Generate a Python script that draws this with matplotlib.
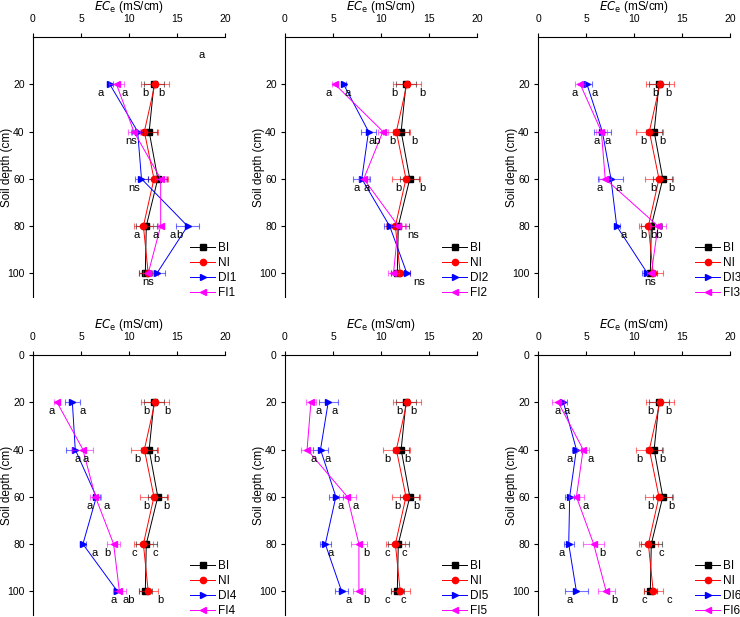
import matplotlib.pyplot as plt

depth = [20, 40, 60, 80, 100]

# shared treatments
BI = [12.6, 12.1, 13.0, 11.8, 11.7]
BI_err = [1.0, 0.8, 1.0, 1.1, 0.7]
NI = [12.7, 11.6, 12.6, 11.5, 12.0]
NI_err = [1.5, 1.4, 1.5, 1.0, 1.0]

# deficit / fertigation treatments, panel 1..6
DI1 = [8.0, 10.9, 11.3, 16.1, 12.9]
DI1_err = [0.3, 0.6, 0.7, 1.2, 0.8]
FI1 = [8.7, 10.5, 13.3, 13.3, 12.0]
FI1_err = [0.8, 0.6, 0.6, 0.3, 0.5]

DI2 = [6.1, 8.7, 8.0, 10.9, 12.7]
DI2_err = [0.3, 0.8, 0.9, 0.6, 0.3]
FI2 = [5.2, 10.2, 8.2, 11.8, 11.3]
FI2_err = [0.3, 0.5, 0.5, 0.8, 0.6]

DI3 = [5.1, 6.7, 7.6, 8.2, 11.4]
DI3_err = [0.5, 0.9, 1.3, 0.3, 0.6]
FI3 = [4.4, 6.6, 7.0, 12.5, 11.8]
FI3_err = [0.5, 0.6, 0.6, 0.8, 0.4]

DI4 = [4.1, 4.4, 6.6, 5.2, 8.8]
DI4_err = [0.8, 1.0, 0.4, 0.3, 0.4]
FI4 = [2.5, 5.2, 6.5, 8.4, 9.0]
FI4_err = [0.3, 1.1, 0.6, 0.7, 0.7]

DI5 = [4.5, 3.7, 5.3, 4.2, 5.9]
DI5_err = [1.0, 0.8, 0.7, 0.6, 0.7]
FI5 = [2.7, 2.3, 6.5, 7.7, 7.7]
FI5_err = [0.5, 0.6, 0.9, 0.8, 0.6]

DI6 = [2.65, 4.0, 3.3, 3.2, 4.0]
DI6_err = [0.4, 0.5, 0.5, 0.5, 1.2]
FI6 = [2.1, 4.7, 4.0, 5.8, 7.1]
FI6_err = [0.6, 0.6, 0.8, 1.1, 0.9]

# significance letters (x, depth, text)
letters1 = [(7.0, 20, 'a'), (9.5, 20, 'a'), (11.7, 20, 'b'), (13.4, 20, 'b'),
            (10.2, 40, 'ns'), (10.5, 60, 'ns'),
            (10.8, 80, 'a'), (12.8, 80, 'a'), (14.5, 80, 'a'), (15.3, 80, 'b'),
            (12.0, 100, 'ns')]
letters2 = [(4.5, 20, 'a'), (6.5, 20, 'a'), (11.4, 20, 'b'), (14.3, 20, 'b'),
            (9.3, 40, 'ab'), (11.2, 40, 'b'), (13.5, 40, 'b'),
            (7.5, 60, 'a'), (8.5, 60, 'a'), (11.8, 60, 'b'), (14.3, 60, 'b'),
            (13.4, 80, 'ns'), (14.0, 100, 'ns')]
letters3 = [(3.8, 20, 'a'), (5.9, 20, 'a'), (12.2, 20, 'b'), (13.6, 20, 'b'),
            (6.1, 40, 'a'), (7.3, 40, 'a'), (11.0, 40, 'b'), (13.0, 40, 'b'),
            (6.4, 60, 'a'), (8.4, 60, 'a'), (12.0, 60, 'b'), (13.9, 60, 'b'),
            (8.9, 80, 'a'), (11.0, 80, 'b'), (12.3, 80, 'bb'),
            (11.7, 100, 'ns')]
letters4 = [(1.9, 20, 'a'), (5.2, 20, 'a'), (11.8, 20, 'b'), (14.0, 20, 'b'),
            (4.6, 40, 'a'), (5.5, 40, 'a'), (10.9, 40, 'b'), (12.9, 40, 'b'),
            (5.9, 60, 'a'), (7.7, 60, 'a'), (11.8, 60, 'b'), (13.9, 60, 'b'),
            (6.4, 80, 'a'), (7.8, 80, 'b'), (10.6, 80, 'c'), (12.7, 80, 'c'),
            (8.4, 100, 'a'), (10.0, 100, 'ab'), (13.3, 100, 'b')]
letters5 = [(3.5, 20, 'a'), (5.2, 20, 'a'), (11.9, 20, 'b'), (13.4, 20, 'b'),
            (3.0, 40, 'a'), (4.4, 40, 'a'), (10.7, 40, 'b'), (12.8, 40, 'b'),
            (5.8, 60, 'a'), (7.4, 60, 'a'), (11.7, 60, 'b'), (13.7, 60, 'b'),
            (4.8, 80, 'a'), (8.5, 80, 'b'), (10.7, 80, 'c'), (12.4, 80, 'c'),
            (6.6, 100, 'a'), (8.5, 100, 'b'), (10.7, 100, 'c'), (12.3, 100, 'c')]
letters6 = [(2.0, 20, 'a'), (3.0, 20, 'a'), (11.7, 20, 'b'), (13.6, 20, 'b'),
            (3.3, 40, 'a'), (5.5, 40, 'a'), (10.6, 40, 'b'), (13.0, 40, 'b'),
            (2.5, 60, 'a'), (5.0, 60, 'a'), (11.7, 60, 'b'), (13.9, 60, 'b'),
            (2.5, 80, 'a'), (6.7, 80, 'b'), (10.4, 80, 'c'), (12.8, 80, 'c'),
            (3.3, 100, 'a'), (8.0, 100, 'b'), (11.1, 100, 'c'), (13.7, 100, 'c')]

panels = [
    ('DI1', DI1, DI1_err, 'FI1', FI1, FI1_err, letters1),
    ('DI2', DI2, DI2_err, 'FI2', FI2, FI2_err, letters2),
    ('DI3', DI3, DI3_err, 'FI3', FI3, FI3_err, letters3),
    ('DI4', DI4, DI4_err, 'FI4', FI4, FI4_err, letters4),
    ('DI5', DI5, DI5_err, 'FI5', FI5, FI5_err, letters5),
    ('DI6', DI6, DI6_err, 'FI6', FI6, FI6_err, letters6),
]

plt.rcParams['font.family'] = ['Liberation Sans', 'DejaVu Sans']

fig = plt.figure(figsize=(7.4, 6.17), dpi=100)
W, H = 740, 617
lefts = [33, 285, 538]
tops = [37, 355]
aw, ah = 192, 260

for i, (dn, dv, de, fn, fv, fe, letters) in enumerate(panels):
    row, col = divmod(i, 3)
    ax = fig.add_axes([lefts[col] / W, 1 - (tops[row] + ah) / H, aw / W, ah / H])

    def series(vals, err, color, marker, label):
        ax.errorbar(vals, depth, xerr=err, fmt='none', ecolor=color, alpha=0.55,
                    elinewidth=0.8, capsize=2.5, capthick=0.8)
        ax.plot(vals, depth, color=color, marker=marker, markersize=4.5,
                linewidth=0.7, label=label)

    series(BI, BI_err, 'black', 's', 'BI')
    series(NI, NI_err, 'red', 'o', 'NI')
    series(dv, de, 'blue', '>', dn)
    series(fv, fe, 'magenta', '<', fn)

    for x, d, t in letters:
        ax.text(x, d + 3.8, t, fontsize=8, ha='center', va='center')
    if i == 0:
        ax.text(17.6, 7.5, 'a', fontsize=8, ha='center', va='center')

    ax.set_xlim(0, 20)
    ax.set_ylim(110, 0)
    ax.xaxis.tick_top()
    ax.xaxis.set_label_position('top')
    ax.set_xticks([0, 5, 10, 15, 20])
    if row == 0:
        ax.set_yticks([20, 40, 60, 80, 100])
    else:
        ax.set_yticks([0, 20, 40, 60, 80, 100])
    ax.tick_params(axis='x', direction='out', length=3, width=0.8, pad=6, labelsize=7.5)
    ax.tick_params(axis='y', direction='out', length=3, width=0.8, pad=3, labelsize=7.5)
    ax.spines['right'].set_visible(False)
    ax.spines['bottom'].set_visible(False)
    ax.set_xlabel('$\\mathit{EC}_{\\mathrm{e}}$ (mS/cm)', fontsize=8.5)
    ax.xaxis.set_label_coords(0.5, 1 + 27 / ah)
    ax.set_ylabel('Soil depth (cm)', fontsize=8.5)
    ax.yaxis.set_label_coords(-0.105, 0.5)
    ax.legend(loc='lower left', bbox_to_anchor=(0.795, -0.025), frameon=False,
              fontsize=8.5, handlelength=2.1, handletextpad=0.25, labelspacing=0.25,
              borderaxespad=0)

fig.savefig('out.png', dpi=100)
